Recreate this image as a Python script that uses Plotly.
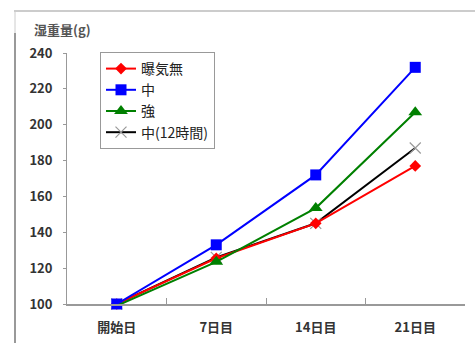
import plotly.graph_objects as go

categories = ["開始日", "7日目", "14日目", "21日目"]
series_names = ["曝気無", "中", "強", "中(12時間)"]
v_none = [100, 125.5, 145, 177]
v_mid = [100, 133, 172, 232]
v_strong = [99, 123.5, 153.5, 207]
v_mid12 = [100, 126, 145, 187]
y_ticks = [100, 120, 140, 160, 180, 200, 220, 240]

W, H = 475, 343
L, R, T, B = 67, 10, 53, 39
pw, ph = W - L - R, H - T - B

def px(x):
    return (x - L) / pw

def py(y):
    return (H - B - y) / ph

font = "Noto Sans CJK JP, Noto Sans, sans-serif"
fig = go.Figure()

styles = {
    "曝気無": (v_none, "#ff0000", "diamond", 9, 1),
    "中": (v_mid, "#0000ff", "square", 11, 2),
    "強": (v_strong, "#008000", "triangle-up", 12, 3),
    "中(12時間)": (v_mid12, "#000000", "x-thin", 11, 4),
}
draw_order = ["中(12時間)", "曝気無", "中", "強"]
for name in draw_order:
    vals, col, sym, sz, rank = styles[name]
    marker = dict(symbol=sym, size=sz, color=col)
    if sym == "x-thin":
        marker = dict(symbol=sym, size=sz, color="#999999", line=dict(color="#999999", width=1.2))
    fig.add_trace(go.Scatter(
        x=categories, y=vals, name=name, mode="lines+markers", legendrank=rank,
        line=dict(color=col, width=2), marker=marker, cliponaxis=False,
    ))

fig.update_layout(
    width=W, height=H,
    margin=dict(l=L, r=R, t=T, b=B, autoexpand=False),
    paper_bgcolor="white", plot_bgcolor="white",
    font=dict(family=font, size=13, color="#333333"),
    showlegend=True,
    legend=dict(
        x=px(100), y=py(52), xanchor="left", yanchor="top",
        bordercolor="#999999", borderwidth=1, bgcolor="white",
        font=dict(size=14, color="#222222"),
        itemwidth=30,
    ),
    xaxis=dict(
        type="category", range=[-0.5, 3.5], showgrid=False, automargin=False,
        showline=True, linecolor="#999999", linewidth=2,
        ticks="inside", ticklen=6, tickcolor="#999999", tickson="boundaries",
        tickfont=dict(size=13, color="#333333", weight=600),
        ticklabelstandoff=10,
    ),
    yaxis=dict(
        range=[100, 240], tickvals=y_ticks, showgrid=False, zeroline=False, automargin=False,
        showline=True, linecolor="#999999", linewidth=1,
        ticks="outside", ticklen=3, tickcolor="#999999",
        tickfont=dict(size=13, color="#333333", weight=600),
        ticklabelstandoff=8,
    ),
    annotations=[dict(
        text="湿重量(g)", x=px(32), y=py(29), xref="paper", yref="paper",
        xanchor="left", yanchor="middle", showarrow=False,
        font=dict(size=13, color="#555555", weight=600),
    )],
    shapes=[
        dict(type="line", xref="paper", yref="paper", x0=px(14), x1=px(475), y0=py(11), y1=py(11),
             line=dict(color="#cccccc", width=2)),
        dict(type="line", xref="paper", yref="paper", x0=px(15), x1=px(15), y0=py(11), y1=py(33),
             line=dict(color="#cccccc", width=1)),
        dict(type="line", xref="paper", yref="paper", x0=px(15), x1=px(15), y0=py(33), y1=py(343),
             line=dict(color="#999999", width=2)),
    ],
)

fig.write_html("out.html")
